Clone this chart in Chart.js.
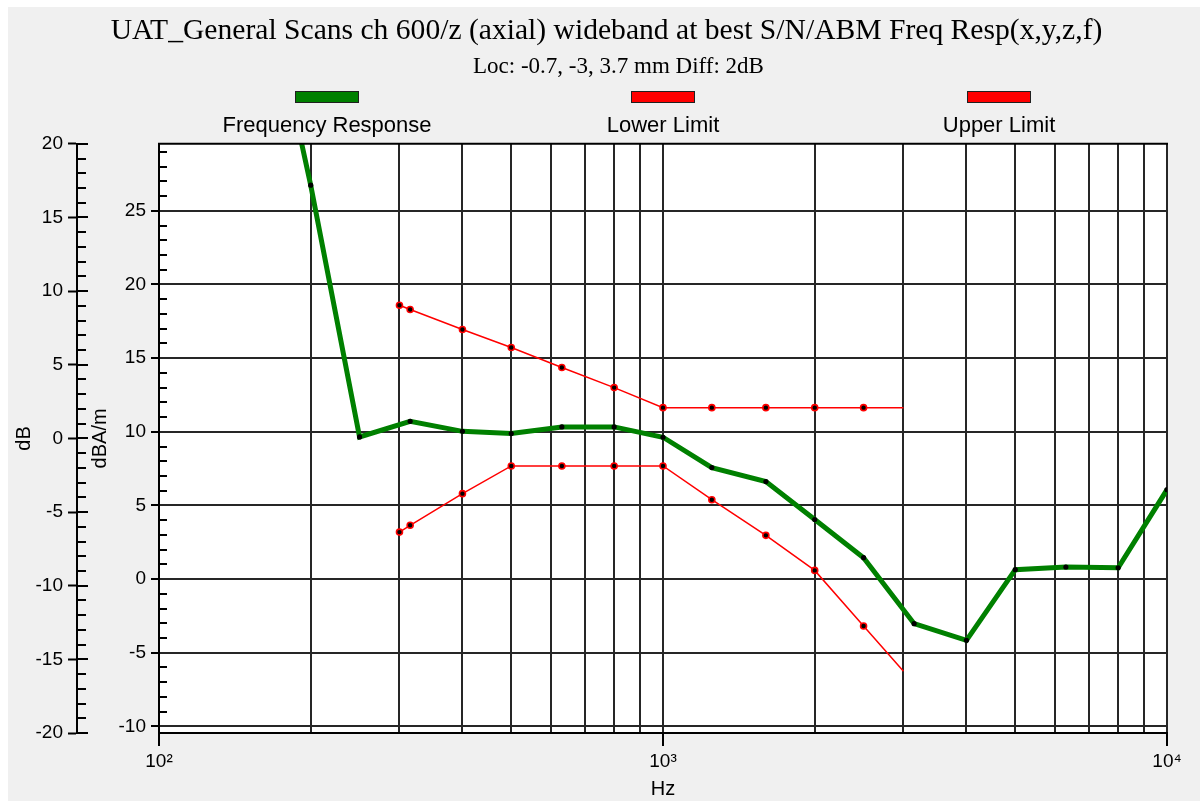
<!DOCTYPE html>
<html>
<head>
<meta charset="utf-8">
<script src="https://cdn.jsdelivr.net/npm/chart.js@4.4.1/dist/chart.umd.min.js"></script>
<style>
html,body{margin:0;padding:0;background:#fff;}
#wrap{position:relative;width:1200px;height:801px;}
canvas{display:block;}
</style>
</head>
<body>
<div id="wrap"><canvas id="c" width="1200" height="801" style="width:1200px;height:801px"></canvas></div>
<script>
// ---- data ----
const titleText = 'UAT_General Scans ch 600/z (axial) wideband at best S/N/ABM Freq Resp(x,y,z,f)';
const subtitleText = 'Loc: -0.7, -3, 3.7 mm Diff: 2dB';
const seriesNames = ['Frequency Response', 'Lower Limit', 'Upper Limit'];

const frFreq   = [160, 200, 250, 315, 400, 500, 630, 800, 1000, 1250, 1600, 2000, 2500, 3150, 4000, 5000, 6300, 8000, 10000];
const frValues = [42.0, 26.74, 9.65, 10.71, 10.03, 9.88, 10.33, 10.33, 9.63, 7.57, 6.62, 4.04, 1.45, -3.03, -4.16, 0.64, 0.82, 0.77, 6.07];

const limitFreq  = [300, 315, 400, 500, 630, 800, 1000, 1250, 1600, 2000, 2500, 3000];
const lowerLimit = [3.19, 3.65, 5.80, 7.68, 7.68, 7.68, 7.68, 5.39, 2.97, 0.59, -3.19, -6.25];
const upperLimit = [18.59, 18.30, 16.94, 15.72, 14.36, 13.00, 11.64, 11.64, 11.64, 11.64, 11.64, 11.64];

const xTickValues = [100, 200, 300, 400, 500, 600, 700, 800, 900, 1000, 2000, 3000, 4000, 5000, 6000, 7000, 8000, 9000, 10000];
const xTickLabels = {100: '10²', 1000: '10³', 10000: '10⁴'};
const innerTicks = [-10, -5, 0, 5, 10, 15, 20, 25];   // dBA/m
const outerTicks = [-20, -15, -10, -5, 0, 5, 10, 15, 20]; // dB
const innerRange = [-10.45, 29.55];
const outerRange = [-20, 20];

// ---- helpers ----
const pts = (xs, ys) => xs.map((x, i) => ({x: x, y: ys[i]}));
const noLastMarker = r => ctx => (ctx.dataIndex === ctx.dataset.data.length - 1 ? 0 : r);
const GRID = '#262626';
const SANS = 'Liberation Sans, Arial, sans-serif';
const SERIF = 'Liberation Serif, Times New Roman, serif';
const TITLE_SHIFT = 23, SUBTITLE_SHIFT = 35;

const decor = {
  id: 'decor',
  afterLayout(chart) {
    // the reference centres its heading a bit right of the canvas centre
    chart.boxes.forEach(b => {
      const t = b.options && b.options.text;
      const d = t === titleText ? TITLE_SHIFT : (t === subtitleText ? SUBTITLE_SHIFT : 0);
      if (d) { b.left += d; b.right += d; }
    });
  },
  beforeDraw(chart) {
    const {ctx, width, height, chartArea: a} = chart;
    ctx.save();
    ctx.fillStyle = '#ffffff';
    ctx.fillRect(0, 0, width, height);
    ctx.fillStyle = '#f0f0f0';
    ctx.fillRect(8, 7, width - 8, height - 7);
    ctx.fillStyle = '#ffffff';
    ctx.fillRect(a.left, a.top, a.right - a.left, a.bottom - a.top);
    ctx.restore();
  },
  afterDraw(chart) {
    const {ctx, chartArea: a} = chart;
    const yi = chart.scales.y, yo = chart.scales.y2;
    ctx.save();
    ctx.strokeStyle = '#000';
    ctx.lineWidth = 2;
    ctx.beginPath();
    // top border
    ctx.moveTo(a.left - 1, a.top); ctx.lineTo(a.right + 1, a.top);
    // inner axis minor ticks
    for (let v = Math.ceil(yi.min); v <= Math.floor(yi.max); v++) {
      if (v % 5 === 0) continue;
      const p = Math.round(yi.getPixelForValue(v));
      ctx.moveTo(yi.right, p); ctx.lineTo(yi.right + 8, p);
    }
    // outer axis minor / major inner parts
    for (let v = outerRange[0]; v <= outerRange[1]; v++) {
      const p = Math.round(yo.getPixelForValue(v));
      ctx.moveTo(yo.right, p); ctx.lineTo(yo.right + (v % 5 === 0 ? 11 : 9), p);
    }
    ctx.stroke();

    // legend: box above label
    const cx0 = (a.left + a.right) / 2;
    const gap = 336;
    ctx.font = '22px ' + SANS;
    ctx.textAlign = 'center';
    ctx.textBaseline = 'middle';
    chart.data.datasets.forEach((ds, i) => {
      const cx = cx0 + (i - 1) * gap;
      ctx.fillStyle = ds.borderColor;
      ctx.fillRect(cx - 31, 92, 62, 10);
      ctx.lineWidth = 1;
      ctx.strokeStyle = '#202020';
      ctx.strokeRect(cx - 31.5, 91.5, 63, 11);
      ctx.fillStyle = '#000';
      ctx.fillText(ds.label, cx, 126);
    });
    ctx.restore();
  }
};

new Chart(document.getElementById('c'), {
  type: 'line',
  data: {
    datasets: [
      {
        label: seriesNames[0],
        data: pts(frFreq, frValues),
        yAxisID: 'y',
        borderColor: '#008000',
        backgroundColor: '#008000',
        borderWidth: 5,
        tension: 0,
        pointRadius: 2.6,
        pointBackgroundColor: '#000',
        pointBorderWidth: 0,
        pointHoverRadius: 0
      },
      {
        label: seriesNames[1],
        data: pts(limitFreq, lowerLimit),
        yAxisID: 'y',
        borderColor: '#ff0000',
        backgroundColor: '#ff0000',
        borderWidth: 1.5,
        tension: 0,
        pointRadius: noLastMarker(3),
        pointBackgroundColor: '#000',
        pointBorderColor: '#ff0000',
        pointBorderWidth: 1.6,
        pointHoverRadius: 0
      },
      {
        label: seriesNames[2],
        data: pts(limitFreq, upperLimit),
        yAxisID: 'y',
        borderColor: '#ff0000',
        backgroundColor: '#ff0000',
        borderWidth: 1.5,
        tension: 0,
        pointRadius: noLastMarker(3),
        pointBackgroundColor: '#000',
        pointBorderColor: '#ff0000',
        pointBorderWidth: 1.6,
        pointHoverRadius: 0
      }
    ]
  },
  plugins: [decor],
  options: {
    responsive: false,
    animation: false,
    devicePixelRatio: 1,
    events: [],
    layout: {padding: {left: 0, right: 33, top: 0, bottom: 0}},
    plugins: {
      legend: {display: false},
      tooltip: {enabled: false},
      title: {
        display: true, text: titleText, color: '#000',
        font: {family: SERIF, size: 29.6, weight: 'normal'},
        padding: {top: 13.5, bottom: 0}
      },
      subtitle: {
        display: true, text: subtitleText, color: '#000',
        font: {family: SERIF, size: 23, weight: 'normal'},
        padding: {top: 4, bottom: 63.2}
      }
    },
    scales: {
      x: {
        type: 'logarithmic', position: 'bottom',
        min: 100, max: 10000,
        afterBuildTicks: s => { s.ticks = xTickValues.map(v => ({value: v, major: v in xTickLabels})); },
        afterFit: s => { s.height = 68; },
        ticks: {
          autoSkip: false, maxRotation: 0, minRotation: 0, padding: 4,
          color: '#000', font: {family: SANS, size: 19},
          callback: v => xTickLabels[v] || ''
        },
        grid: {
          color: GRID, lineWidth: 2, drawTicks: true, tickLength: 13, tickWidth: 2,
          tickColor: ctx => (ctx.tick && xTickLabels[ctx.tick.value] ? '#000' : 'rgba(0,0,0,0)')
        },
        border: {display: true, color: '#000', width: 2},
        title: {display: true, text: 'Hz', color: '#000', font: {family: SANS, size: 20}, padding: {top: 0, bottom: 0}}
      },
      y: {
        position: 'left', weight: 0,
        min: innerRange[0], max: innerRange[1],
        afterBuildTicks: s => { s.ticks = innerTicks.map(v => ({value: v})); },
        afterFit: s => { s.width = 82; },
        ticks: {color: '#000', font: {family: SANS, size: 19}, padding: 5},
        grid: {color: GRID, lineWidth: 2, drawTicks: true, tickLength: 8, tickColor: '#000', tickWidth: 2},
        border: {display: true, color: '#000', width: 2},
        title: {display: true, text: 'dBA/m', color: '#000', font: {family: SANS, size: 20}, padding: {top: 11, bottom: 0}}
      },
      y2: {
        position: 'left', weight: 1,
        min: outerRange[0], max: outerRange[1],
        afterBuildTicks: s => { s.ticks = outerTicks.map(v => ({value: v})); },
        afterFit: s => { s.width = 77; },
        ticks: {color: '#000', font: {family: SANS, size: 19}, padding: 5},
        grid: {drawOnChartArea: false, drawTicks: true, tickLength: 9, tickColor: '#000', tickWidth: 2},
        border: {display: true, color: '#000', width: 2},
        title: {display: true, text: 'dB', color: '#000', font: {family: SANS, size: 20}, padding: {top: 12, bottom: 0}}
      }
    }
  }
});
</script>
</body>
</html>
